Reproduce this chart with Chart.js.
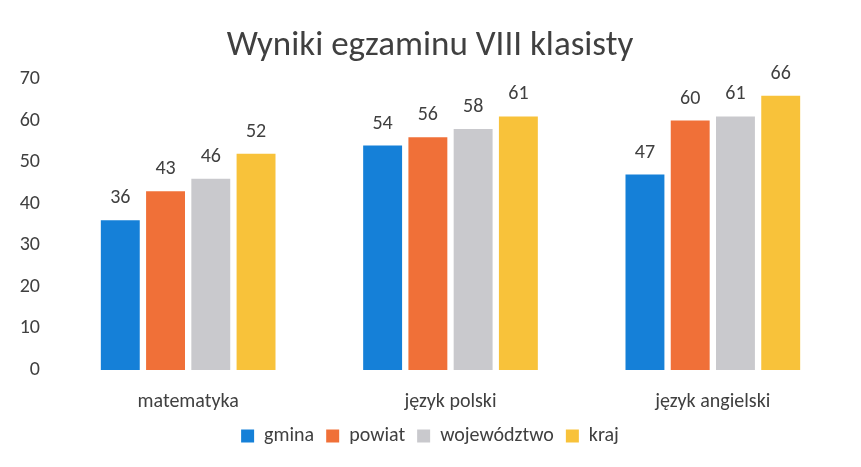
<!DOCTYPE html>
<html><head><meta charset="utf-8">
<script src="https://cdn.jsdelivr.net/npm/chart.js@4/dist/chart.umd.min.js"></script>
<style>html,body{margin:0;padding:0;background:#fff}canvas{display:block}</style>
</head><body>
<canvas id="c" width="861" height="467"></canvas>
<script>
const categories = ["matematyka", "język polski", "język angielski"];
const gmina = [36, 54, 47];
const powiat = [43, 56, 60];
const wojewodztwo = [46, 58, 61];
const kraj = [52, 61, 66];
const seriesNames = ["gmina", "powiat", "województwo", "kraj"];
const yTicks = [0, 10, 20, 30, 40, 50, 60, 70];

const FONT = "Carlito, Lato, 'Liberation Sans', sans-serif";
const colors = ["#1580d8", "#f07038", "#c9c9cd", "#f8c23a"];

const valueLabels = {
  id: 'valueLabels',
  afterDatasetsDraw(chart) {
    const ctx = chart.ctx;
    ctx.save();
    ctx.font = "20px " + FONT;
    ctx.fillStyle = "#404040";
    ctx.textAlign = "center";
    ctx.textBaseline = "bottom";
    chart.data.datasets.forEach((ds, i) => {
      chart.getDatasetMeta(i).data.forEach((bar, j) => {
        ctx.fillText(String(ds.data[j]), bar.x, bar.y - 12);
      });
    });
    ctx.restore();
  }
};

new Chart(document.getElementById('c'), {
  type: 'bar',
  data: {
    labels: categories,
    datasets: [gmina, powiat, wojewodztwo, kraj].map((d, i) => ({
      label: seriesNames[i],
      data: d,
      backgroundColor: colors[i],
      borderWidth: 0,
      categoryPercentage: 0.69,
      barPercentage: 0.86
    }))
  },
  options: {
    responsive: false,
    animation: false,
    layout: { padding: { left: 16, right: 17, top: 25, bottom: 11 } },
    plugins: {
      title: {
        display: true,
        text: "Wyniki egzaminu VIII klasisty",
        font: { family: FONT, size: 35, weight: 'normal' },
        color: "#404040",
        padding: { top: 0, bottom: 12 }
      },
      legend: {
        position: 'bottom',
        labels: {
          font: { family: FONT, size: 20 },
          color: "#404040",
          boxWidth: 13, boxHeight: 13,
          padding: 12
        }
      },
      tooltip: { enabled: false }
    },
    scales: {
      x: {
        grid: { display: false, drawTicks: false },
        border: { display: false },
        ticks: { font: { family: FONT, size: 20 }, color: "#404040", padding: 20 },
        afterFit(axis) { axis.paddingLeft = 0; axis.paddingRight = 0; axis.height = 44; }
      },
      y: {
        min: 0, max: 70,
        afterBuildTicks(axis) { axis.ticks = yTicks.map(v => ({ value: v })); },
        grid: { display: false, drawTicks: false },
        border: { display: false },
        ticks: { font: { family: FONT, size: 20 }, color: "#404040", padding: 17 },
        afterFit(axis) { axis.width = 41; }
      }
    }
  },
  plugins: [valueLabels]
});
</script>
</body></html>
